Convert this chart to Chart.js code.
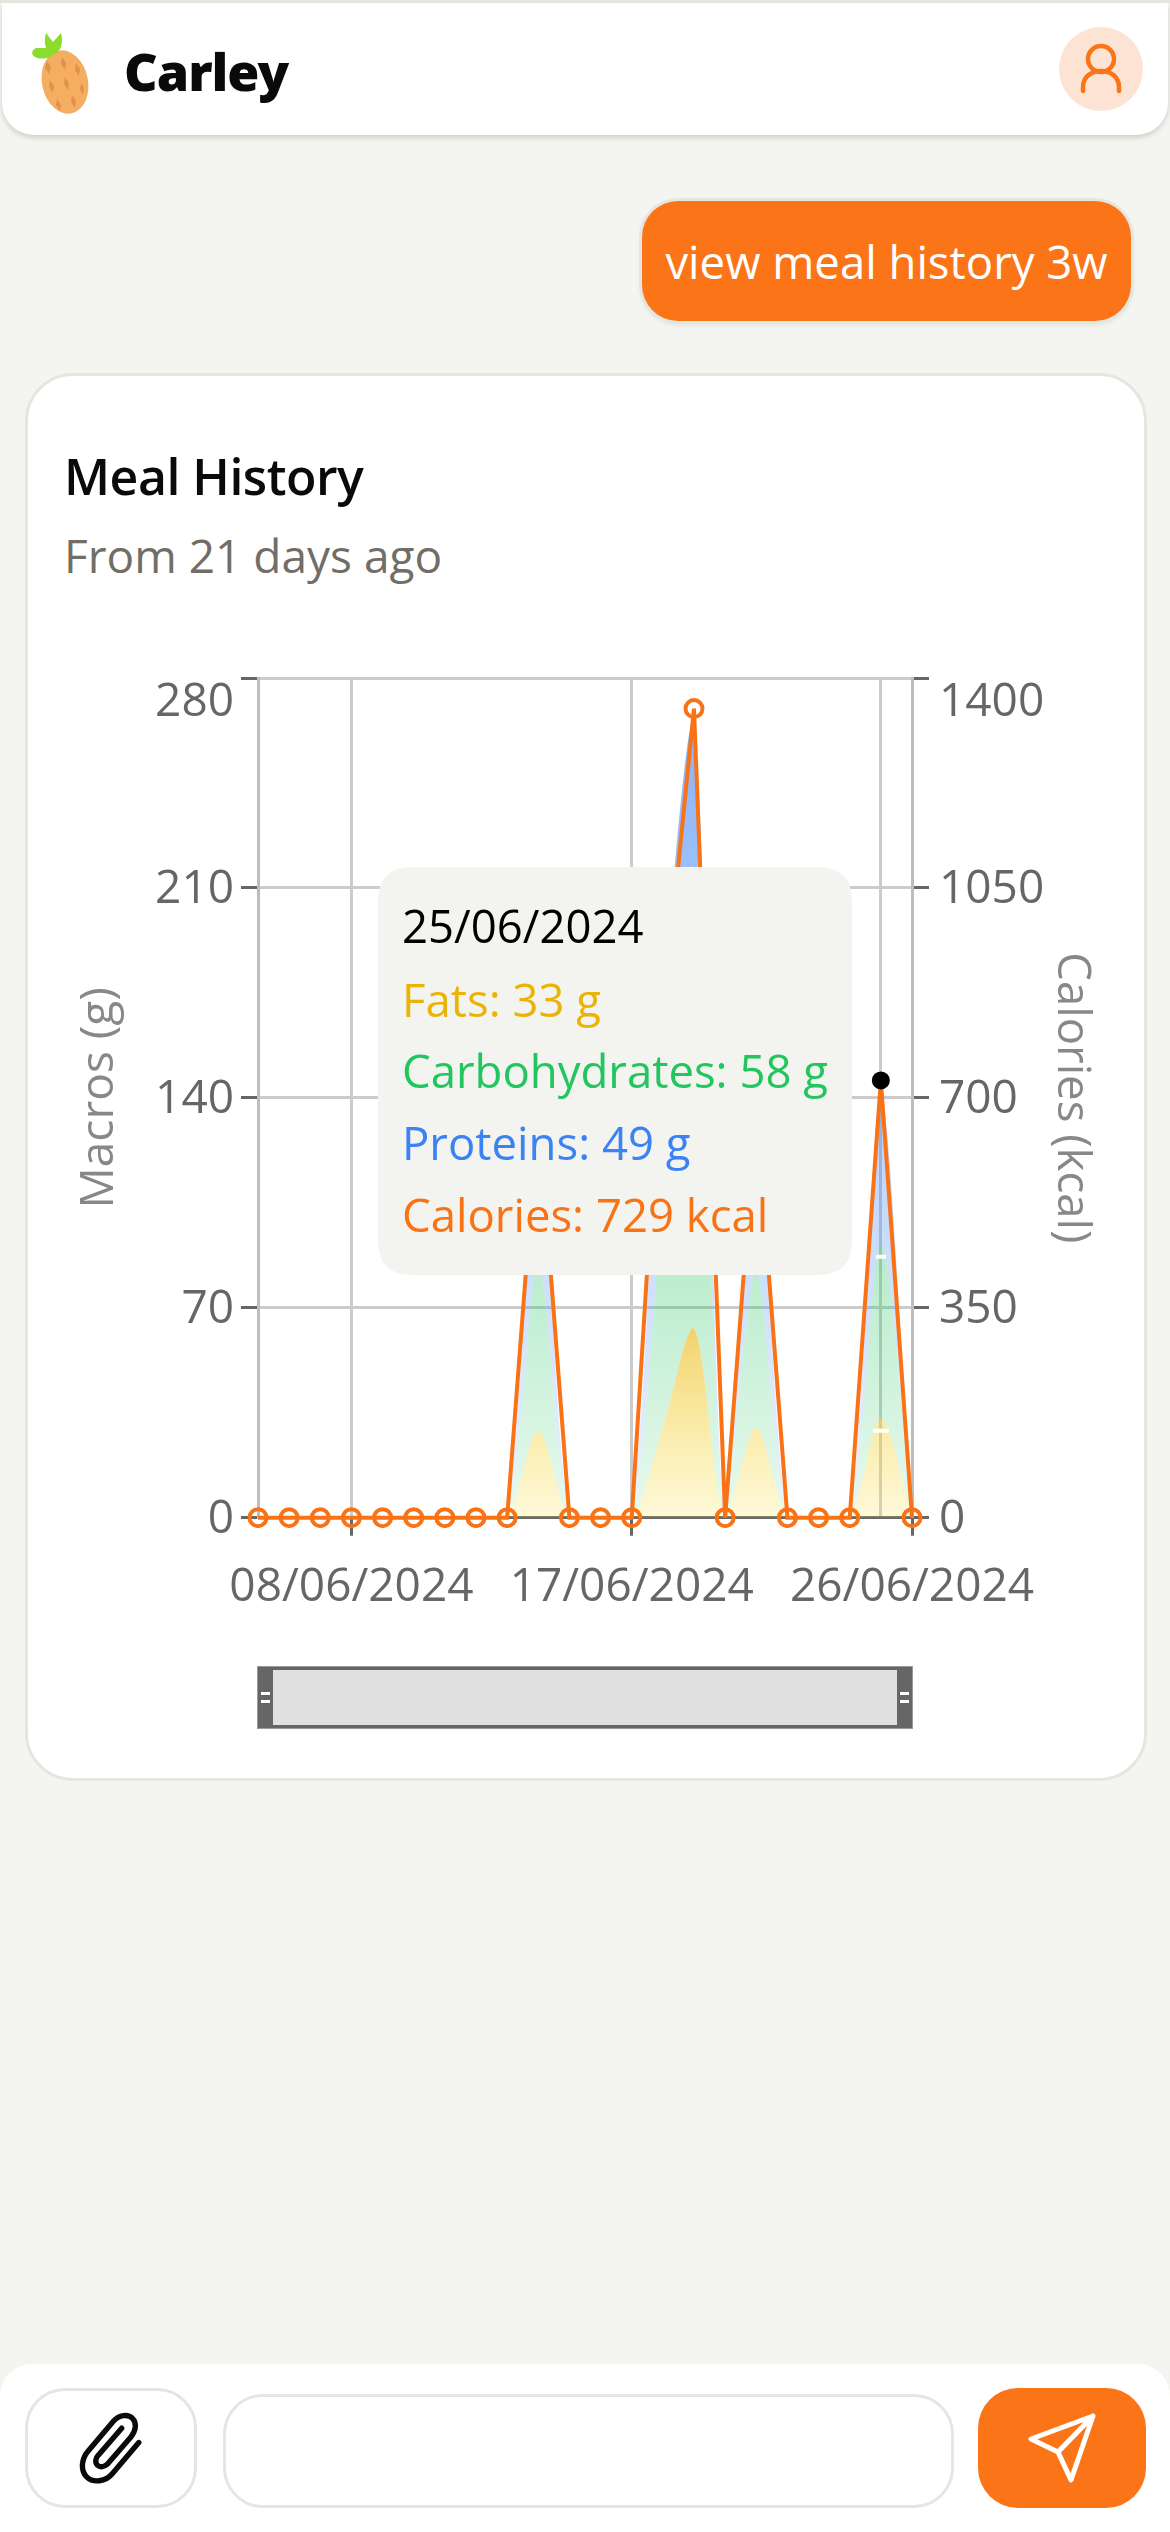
<!DOCTYPE html>
<html>
<head>
<meta charset="utf-8">
<script src="https://cdn.jsdelivr.net/npm/chart.js@4"></script>
<style>
  html, body { margin: 0; padding: 0; }
  body { width: 1170px; height: 2532px; background: #f4f4f0; position: relative; overflow: hidden; font-family: "Open Sans", sans-serif; }
  .topline { position: absolute; left: 0; top: 0; width: 1170px; height: 3px; background: #e6e6e1; }
  .header { position: absolute; left: 2px; top: 3px; width: 1166px; height: 132px; background: #fff; border-radius: 0 0 32px 32px; box-shadow: 0 3px 5px rgba(0,0,0,.15); }
  .name { position: absolute; left: 122px; top: 35px; font: 900 52px "Noto Sans", sans-serif; line-height: 66px; color: #0a0a0a; letter-spacing: -1px; }
  .avatar { position: absolute; left: 1057px; top: 24px; width: 84px; height: 84px; border-radius: 50%; background: #fde3d3; }
  .bubble { position: absolute; left: 642px; top: 201px; width: 489px; height: 120px; background: #fb7417; border-radius: 36px; box-shadow: 0 0 0 3px #e6e6e1, 0 3px 6px rgba(0,0,0,.1); color: #fff; font-size: 45.5px; line-height: 120px; text-align: center; letter-spacing: 0; }
  .card { position: absolute; left: 25px; top: 373px; width: 1116px; height: 1402px; background: #fff; border: 3px solid #e6e6e1; border-radius: 48px; }
  .card-title { position: absolute; left: 64px; top: 440px; font-size: 50px; font-weight: 600; line-height: 72px; color: #0a0a0a; letter-spacing: -.5px; }
  .card-sub { position: absolute; left: 64px; top: 522px; font-size: 46px; line-height: 66px; color: #736d68; }
  #chart { position: absolute; left: 0; top: 600px; }
  .slider { position: absolute; left: 257px; top: 1666px; width: 656px; height: 63px; box-sizing: border-box; background: #666; border: 1px solid #999; }
  .slider .fill { position: absolute; left: 15px; right: 15px; top: 3px; bottom: 3px; background: #e0e0e0; }
  .slider i { position: absolute; width: 9px; height: 3px; background: #fff; }
  .footer { position: absolute; left: 0; top: 2364px; width: 1170px; height: 168px; background: #fff; border-radius: 32px 32px 0 0; }
  .btn { position: absolute; box-sizing: border-box; border-radius: 40px; }
</style>
</head>
<body>
<div class="topline"></div>
<div class="header">
  <svg style="position:absolute;left:26px;top:28px" width="70" height="88" viewBox="0 0 70 88">
    <ellipse cx="37" cy="51" rx="23" ry="32" fill="#f5ad62" transform="rotate(-12 37 51)"/>
    <g fill="#e3914a">
      <path d="M19 30 l4 6 l-2 7 l-4 -6 z"/><path d="M34 26 l4 6 l-1 7 l-4 -6 z"/><path d="M48 32 l4 6 l-1 7 l-4 -6 z"/>
      <path d="M22 49 l4 6 l-1 7 l-4 -6 z"/><path d="M37 46 l4 6 l-1 7 l-4 -6 z"/><path d="M53 52 l3 5 l-1 7 l-3 -5 z"/>
      <path d="M29 68 l4 6 l-1 6 l-4 -6 z"/><path d="M44 64 l4 6 l-1 7 l-4 -6 z"/>
    </g>
    <path d="M8 17 C2 20 4 24 7 26 C15 30 26 26 32 18 C35 12 34 6 33 2 L25 11 L18 2 C16 8 17 13 18 17 Z" fill="#8cdc2e"/>
  </svg>
  <div class="name">Carley</div>
  <div class="avatar">
    <svg width="84" height="84" viewBox="0 0 84 84" fill="none" stroke="#fb7417" stroke-width="4.5" stroke-linecap="round">
      <circle cx="42" cy="32" r="13"/>
      <path d="M24 64 V60 C24 50 32 44 42 44 C52 44 60 50 60 60 V64"/>
    </svg>
  </div>
</div>
<div class="bubble">view meal history 3w</div>
<div class="card"></div>
<div class="card-title">Meal History</div>
<div class="card-sub">From 21 days ago</div>
<canvas id="chart" width="1170" height="1050" style="width:1170px;height:1050px"></canvas>
<div class="slider">
  <div class="fill"></div>
  <i style="left:3px;top:25px"></i><i style="left:3px;top:33px"></i>
  <i style="right:3px;top:25px"></i><i style="right:3px;top:33px"></i>
</div>
<div class="footer"></div>
<div class="btn" style="left:25px;top:2388px;width:172px;height:120px;border:3px solid #e6e6e1">
  <svg width="166" height="114" viewBox="0 0 166 114" fill="none" stroke="#0a0a0a" stroke-width="6" stroke-linecap="round" stroke-linejoin="round">
    <g transform="translate(82 57) scale(.9) translate(-75 -52)">
      <path d="M107 46 L78 80 C70 90 56 91 49 84 C42 77 43 64 51 55 L79 22 C85 15 95 14 100 19 C105 24 104 33 98 40 L72 70 C69 73 64 74 61 71 C58 68 59 63 62 60 L88 30"/>
    </g>
  </svg>
</div>
<div class="btn" style="left:223px;top:2394px;width:731px;height:114px;border:3px solid #e6e6e1"></div>
<div class="btn" style="left:978px;top:2388px;width:168px;height:120px;background:#fb7417">
  <svg width="168" height="120" viewBox="0 0 168 120" fill="none" stroke="#fff" stroke-width="5" stroke-linecap="round" stroke-linejoin="round">
    <path d="M115 28 L53 51 L80 64 L93 92 Z M115 28 L80 64"/>
  </svg>
</div>
<script>
const dateLabels = ['05/06/2024', '06/06/2024', '07/06/2024', '08/06/2024', '09/06/2024', '10/06/2024',
  '11/06/2024', '12/06/2024', '13/06/2024', '14/06/2024', '15/06/2024', '16/06/2024', '17/06/2024',
  '18/06/2024', '19/06/2024', '20/06/2024', '21/06/2024', '22/06/2024', '23/06/2024', '24/06/2024',
  '25/06/2024', '26/06/2024'];
const fats =     [0, 0, 0, 0, 0, 0, 0, 0, 0, 29, 0, 0, 0, 30, 63, 0, 30, 0, 0, 0, 33, 0];
const carbs =    [0, 0, 0, 0, 0, 0, 0, 0, 0, 55, 0, 0, 0, 75, 135, 0, 52, 0, 0, 0, 58, 0];
const proteins = [0, 0, 0, 0, 0, 0, 0, 0, 0, 47, 0, 0, 0, 65, 66, 0, 50, 0, 0, 0, 49, 0];
const calories = [0, 0, 0, 0, 0, 0, 0, 0, 0, 680, 0, 0, 0, 830, 1349, 0, 680, 0, 0, 0, 729, 0];
const markFats =  [null, null, null, null, null, null, null, null, null, null, null, null, null, null, null, null, null, null, null, null, 29, null];
const markCarbs = [null, null, null, null, null, null, null, null, null, null, null, null, null, null, null, null, null, null, null, null, 87, null];
const macroTicks = [0, 70, 140, 210, 280];
const calorieTicks = [0, 350, 700, 1050, 1400];
const labelledDates = ['08/06/2024', '17/06/2024', '26/06/2024'];
const hoverDate = '25/06/2024';

const hoverIndex = dateLabels.indexOf(hoverDate);
const textGrey = '#666666';
const lineOrange = '#f97316';

Chart.defaults.font.family = '"Open Sans", sans-serif';

// area gradient: strong at the top of the layer, faint at the axis
function layerFill(topColor, bottomColor, peak) {
    return (ctx) => {
        const chart = ctx.chart;
        if (!chart.chartArea) return 'transparent';
        const scale = chart.scales.y;
        const g = chart.ctx.createLinearGradient(0, scale.getPixelForValue(peak), 0, scale.getPixelForValue(0));
        g.addColorStop(0, topColor);
        g.addColorStop(1, bottomColor);
        return g;
    };
}

function areaSet(label, data, topColor, bottomColor, peak, fill) {
    return {
        label, data, fill, yAxisID: 'y', stack: 'macros', order: 3,
        backgroundColor: layerFill(topColor, bottomColor, peak), borderWidth: 0, pointRadius: 0, tension: 0.3
    };
}

function markSet(label, data, radius) {
    return {
        label, data, yAxisID: 'y', stack: label, order: 2, showLine: false, fill: false,
        pointStyle: 'line', pointRadius: radius, pointBorderColor: '#fff', pointBorderWidth: 4
    };
}

const stackTop = (...layers) => Math.max(...dateLabels.map((d, i) => layers.reduce((sum, l) => sum + l[i], 0)));

Chart.Tooltip.positioners.fixedBox = function () {
    return { x: 378 + 34, y: 267 };
};

const chart = new Chart(document.getElementById('chart'), {
    type: 'line',
    data: {
        labels: dateLabels,
        datasets: [
            areaSet('Fats', fats, 'rgba(234,179,8,0.6)', 'rgba(250,225,60,0.2)', stackTop(fats), 'origin'),
            areaSet('Carbohydrates', carbs, 'rgba(34,197,94,0.6)', 'rgba(34,197,94,0.1)', stackTop(fats, carbs), '-1'),
            areaSet('Proteins', proteins, 'rgba(59,130,246,0.6)', 'rgba(59,130,246,0.1)', stackTop(fats, carbs, proteins), '-1'),
            {
                label: 'Calories', data: calories, yAxisID: 'y1', order: 1, fill: false, tension: 0, clip: false,
                borderColor: lineOrange, borderWidth: 4,
                pointRadius: (ctx) => ctx.dataIndex === hoverIndex ? 8 : 8.5,
                pointBorderWidth: (ctx) => ctx.dataIndex === hoverIndex ? 2 : 4,
                pointBorderColor: (ctx) => ctx.dataIndex === hoverIndex ? '#000' : lineOrange,
                pointBackgroundColor: (ctx) => ctx.dataIndex === hoverIndex ? '#000' : 'transparent'
            },
            markSet('markFats', markFats, 8),
            markSet('markCarbs', markCarbs, 5)
        ]
    },
    options: {
        responsive: false,
        animation: false,
        events: [],
        devicePixelRatio: 1,
        layout: { padding: { top: 78, left: 72, right: 72 } },
        plugins: {
            legend: { display: false },
            tooltip: {
                position: 'fixedBox',
                xAlign: 'left',
                yAlign: 'top',
                caretSize: 0,
                caretPadding: 0,
                cornerRadius: 34,
                displayColors: false,
                backgroundColor: '#f3f4ef',
                padding: { left: 24, right: 24, top: 36, bottom: 29 },
                titleColor: '#000',
                titleFont: { size: 45.5, weight: 'normal', lineHeight: 1.2 },
                titleMarginBottom: 19,
                bodyFont: { size: 45.5, lineHeight: 1.2 },
                bodySpacing: 17,
                callbacks: {
                    title: (items) => items[0].label,
                    label: (item) => `${item.dataset.label}: ${item.raw} ${item.dataset.label === 'Calories' ? 'kcal' : 'g'}`,
                    labelTextColor: (item) => ['#eab308', '#22c55e', '#3b82f6', lineOrange][item.datasetIndex]
                }
            }
        },
        scales: {
            x: {
                afterFit: (s) => { s.height = 132.3; },
                grid: {
                    lineWidth: 3,
                    tickLength: 18,
                    tickWidth: 3,
                    color: (ctx) => (labelledDates.includes(dateLabels[ctx.index]) || ctx.index === hoverIndex) ? '#cccccc' : 'transparent',
                    tickColor: (ctx) => labelledDates.includes(dateLabels[ctx.index]) ? textGrey : 'transparent'
                },
                border: { color: textGrey, width: 3 },
                ticks: {
                    autoSkip: false,
                    maxRotation: 0,
                    padding: 29,
                    color: textGrey,
                    font: { size: 46, lineHeight: 1 },
                    callback: (v, i) => labelledDates.includes(dateLabels[i]) ? dateLabels[i] : ''
                }
            },
            y: {
                stacked: true,
                min: macroTicks[0],
                max: macroTicks[macroTicks.length - 1],
                afterFit: (s) => { s.width = 258 - 72; },
                afterBuildTicks: (s) => { s.ticks = macroTicks.map((value) => ({ value })); },
                grid: { lineWidth: 3, color: '#cccccc', tickColor: textGrey, tickLength: 17, tickWidth: 3 },
                border: { color: '#bdbdbd', width: 3 },
                title: { display: true, text: 'Macros (g)', color: '#888888', font: { size: 46, lineHeight: 1.2 }, padding: 0 },
                ticks: {
                    padding: 7,
                    labelOffset: 2,
                    color: textGrey,
                    font: { size: 46, lineHeight: 1 },
                    callback: (v) => v === macroTicks[macroTicks.length - 1] ? ['', String(v)] : String(v)
                }
            },
            y1: {
                position: 'right',
                min: calorieTicks[0],
                max: calorieTicks[calorieTicks.length - 1],
                afterFit: (s) => { s.width = 1170 - 912 - 72; },
                afterBuildTicks: (s) => { s.ticks = calorieTicks.map((value) => ({ value })); },
                grid: { drawOnChartArea: false, tickColor: textGrey, tickLength: 17, tickWidth: 3 },
                border: { color: '#bdbdbd', width: 3 },
                title: { display: true, text: 'Calories (kcal)', color: '#888888', font: { size: 45.5, lineHeight: 1.2 }, padding: 0 },
                ticks: {
                    padding: 10,
                    labelOffset: 2,
                    color: textGrey,
                    font: { size: 46, lineHeight: 1 },
                    callback: (v) => v === calorieTicks[calorieTicks.length - 1] ? ['', String(v)] : String(v)
                }
            }
        }
    }
});

// keep the 25/06 tooltip open, there is no mouse here
chart.tooltip.setActiveElements([0, 1, 2, 3].map((datasetIndex) => ({ datasetIndex, index: hoverIndex })), { x: 0, y: 0 });
chart.update();
</script>
</body>
</html>
